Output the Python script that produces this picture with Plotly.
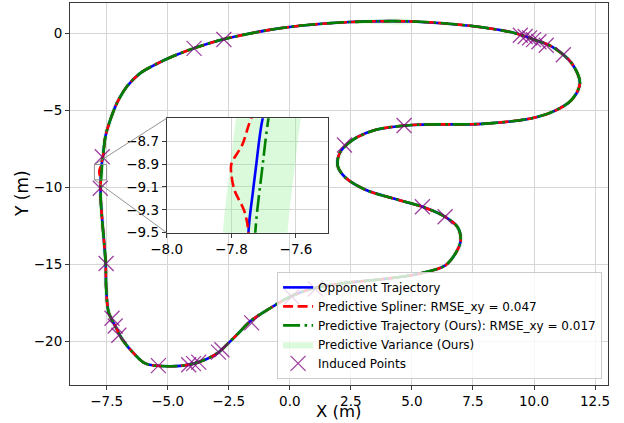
import numpy as np
import plotly.graph_objects as go

# ---------------- data ----------------
# Track waypoints, part A: from top straight, clockwise, down to the left side
track_a_x = [5.02, 7.47, 9.23, 10.0, 10.73, 11.54, 11.88, 11.54, 10.8, 9.91, 7.87, 5.02,
             3.53, 2.58, 2.04, 1.97, 2.31, 3.12, 4.21, 5.43, 6.24, 6.86, 7.0, 6.85, 6.38,
             5.3, 3.56, 2.19, 0.97, 0.01, -0.81, -1.62, -2.12, -2.44, -2.99, -3.94, -4.89, -5.9,
             -6.38, -6.85, -7.13, -7.42, -7.52, -7.54, -7.74]
track_a_y = [0.80, 0.50, 0.04, -0.38, -0.83, -1.91, -3.21, -4.3, -5.05, -5.49, -5.86, -5.93,
             -6.25, -6.9, -7.77, -8.64, -9.4, -10.16, -10.7, -11.25, -11.8, -12.55, -13.4, -14.1, -15.05,
             -15.6, -16.0, -16.22, -16.55, -17.1, -17.85, -18.7, -19.5, -20.0, -20.8, -21.45, -21.62, -21.45,
             -20.8, -19.9, -19.07, -18.1, -16.5, -14.94, -10.8]
# Track waypoints, part B: from the left side up and back to the top straight
track_b_x = [-7.65, -7.55, -7.35, -7.08, -6.67, -6.12, -5.44, -4.76, -3.94, -3.33, -2.72,
             -0.95, 0.41, 2.44, 5.02]
track_b_y = [-7.98, -6.68, -5.6, -4.51, -3.43, -2.56, -1.95, -1.45, -0.95, -0.64, -0.36,
             0.22, 0.52, 0.76, 0.80]

# Zoomed segment (inset window) for each series
opp_zoom_x = [-7.747, -7.734, -7.724, -7.703]
opp_zoom_y = [-9.5, -9.16, -8.93, -8.5]
spl_zoom_x = [-7.747, -7.76, -7.79, -7.80, -7.80, -7.766, -7.74]
spl_zoom_y = [-9.5, -9.31, -9.13, -8.99, -8.9, -8.73, -8.51]
pred_zoom_x = [-7.726, -7.704, -7.685]
pred_zoom_y = [-9.5, -8.93, -8.5]
pred_std = 0.1

# Induced points
ind_x = [-7.68, -7.76, -7.52, -7.28, -7.15, -7.0, -5.38, -4.14, -3.94, -3.73, -2.92, -2.78,
         -1.56, 0.08, 1.05, 5.43, 6.36, 4.68, 2.24, 9.44, 9.64, 9.82, 9.98, 10.2, 10.5, 11.2,
         -3.92, -2.7]
ind_y = [-8.0, -10.05, -14.94, -18.5, -19.0, -19.6, -21.58, -21.52, -21.45, -21.35, -20.7, -20.55,
         -18.8, -17.1, -16.6, -11.25, -11.9, -5.97, -7.23, -0.1, -0.18, -0.27, -0.38, -0.52, -0.75, -1.37,
         -0.95, -0.37]

main_xrange = [-9.0, 13.03]
main_yrange = [-22.84, 2.0]
inset_xrange = [-8.0, -7.5]
inset_yrange = [-9.5, -8.5]
inset_xticks = [-8.0, -7.8, -7.6]
inset_yticks = [-9.5, -9.3, -9.1, -8.9, -8.7]

x_title = "X (m)"
y_title = "Y (m)"
labels = ["Opponent Trajectory",
          "Predictive Spliner: RMSE_xy = 0.047",
          "Predictive Trajectory (Ours): RMSE_xy = 0.017",
          "Predictive Variance (Ours)",
          "Induced Points"]

# ---------------- build series ----------------
def series(zx, zy):
    return track_a_x + zx + track_b_x, track_a_y + zy + track_b_y

opp_x, opp_y = series(opp_zoom_x, opp_zoom_y)
spl_x, spl_y = series(spl_zoom_x, spl_zoom_y)
pred_x, pred_y = series(pred_zoom_x, pred_zoom_y)

px_ = np.array(pred_x); py_ = np.array(pred_y)
tx = np.gradient(px_); ty = np.gradient(py_)
nrm = np.hypot(tx, ty); nrm[nrm == 0] = 1
nx, ny = -ty / nrm, tx / nrm
band_x = list(px_ + pred_std * nx) + list((px_ - pred_std * nx)[::-1])
band_y = list(py_ + pred_std * ny) + list((py_ - pred_std * ny)[::-1])

SM = 0.9
fig = go.Figure()

for ax, ay, show in [("x", "y", True), ("x2", "y2", False)]:
    fig.add_trace(go.Scatter(x=band_x, y=band_y, mode="lines", fill="toself",
                             fillcolor="rgba(144,238,144,0.32)",
                             line=dict(width=0, shape="spline", smoothing=SM),
                             name=labels[3], showlegend=show, legendrank=4, xaxis=ax, yaxis=ay,
                             hoverinfo="skip"))
    fig.add_trace(go.Scatter(x=opp_x, y=opp_y, mode="lines",
                             line=dict(color="#0000ff", width=2.6, shape="spline", smoothing=SM),
                             name=labels[0], showlegend=show, legendrank=1, xaxis=ax, yaxis=ay))
    fig.add_trace(go.Scatter(x=spl_x, y=spl_y, mode="lines",
                             line=dict(color="#ff0000", width=2.6, shape="spline", smoothing=SM,
                                       dash="10px,4.5px"),
                             name=labels[1], showlegend=show, legendrank=2, xaxis=ax, yaxis=ay))
    fig.add_trace(go.Scatter(x=pred_x, y=pred_y, mode="lines",
                             line=dict(color="#008000", width=2.6, shape="spline", smoothing=SM,
                                       dash="17px,4.5px,2.5px,4.5px"),
                             name=labels[2], showlegend=show, legendrank=3, xaxis=ax, yaxis=ay))

fig.add_trace(go.Scatter(x=ind_x, y=ind_y, mode="markers",
                         marker=dict(symbol="x-thin", size=15, color="rgba(128,0,128,0.75)",
                                     line=dict(width=1.3, color="rgba(128,0,128,0.75)")),
                         name=labels[4], legendrank=5, xaxis="x", yaxis="y"))

# ---------------- layout ----------------
ml, mr, mt, mb = 70, 16, 3, 38
W, H = 624, 423
PW, PH = W - ml - mr, H - mt - mb
inset_dx = [(166.7 - ml) / PW, (328.3 - ml) / PW]
inset_dy = [(H - mb - 232.7) / PH, (H - mb - 118.3) / PH]

axis_common = dict(showgrid=True, gridcolor="#d6d6d6", gridwidth=1, zeroline=False,
                   showline=True, mirror=True, linecolor="#3a3a3a", linewidth=1,
                   ticks="outside", ticklen=4, tickcolor="#3a3a3a", automargin=False,
                   tickfont=dict(family="DejaVu Sans", size=13.5, color="black"))

fig.update_layout(
    width=W, height=H, margin=dict(l=ml, r=mr, t=mt, b=mb, autoexpand=False),
    paper_bgcolor="white", plot_bgcolor="white",
    font=dict(family="DejaVu Sans", color="black"),
    xaxis=dict(range=main_xrange, dtick=2.5, tick0=0, tickformat=".1f", **axis_common),
    yaxis=dict(range=main_yrange, dtick=5, tick0=0, tickformat="d", **axis_common),
    xaxis2=dict(domain=inset_dx, anchor="y2", range=inset_xrange, tickvals=inset_xticks,
                tickformat=".1f", **axis_common),
    yaxis2=dict(domain=inset_dy, anchor="x2", range=inset_yrange, tickvals=inset_yticks,
                tickformat=".1f", **axis_common),
    legend=dict(x=0.989, y=0.016, xanchor="right", yanchor="bottom",
                bgcolor="rgba(255,255,255,0.8)", bordercolor="#cccccc", borderwidth=1,
                font=dict(family="DejaVu Sans", size=12, color="black"),
                tracegroupgap=0, itemwidth=30),
    showlegend=True,
)

# axis titles
fig.add_annotation(text=x_title, xref="paper", yref="paper", x=0.5, y=-(411.5 - (H - mb)) / PH,
                   xanchor="center", yanchor="middle", showarrow=False, borderpad=0,
                   font=dict(family="DejaVu Sans", size=16.5, color="black"))
fig.add_annotation(text=y_title, xref="paper", yref="paper", x=(22 - ml) / PW, y=0.5,
                   xanchor="center", yanchor="middle", showarrow=False, textangle=-90,
                   font=dict(family="DejaVu Sans", size=17, color="black"))

# inset indicator rectangle and connectors
def to_paper_x(v):
    return (v - main_xrange[0]) / (main_xrange[1] - main_xrange[0])

def to_paper_y(v):
    return (v - main_yrange[0]) / (main_yrange[1] - main_yrange[0])

gray = "rgba(128,128,128,0.85)"
fig.add_shape(type="rect", xref="x", yref="y", x0=inset_xrange[0], x1=inset_xrange[1],
              y0=inset_yrange[0], y1=inset_yrange[1], line=dict(color=gray, width=1))
fig.add_shape(type="line", xref="paper", yref="paper",
              x0=to_paper_x(inset_xrange[0]), y0=to_paper_y(inset_yrange[1]),
              x1=inset_dx[0], y1=inset_dy[1], line=dict(color=gray, width=1))
fig.add_shape(type="line", xref="paper", yref="paper",
              x0=to_paper_x(inset_xrange[0]), y0=to_paper_y(inset_yrange[0]),
              x1=inset_dx[0], y1=inset_dy[0], line=dict(color=gray, width=1))

fig.write_html("out.html", config={"displayModeBar": False},
               post_script="document.body.style.margin='0';document.body.style.padding='0';"
                           "document.body.style.overflow='hidden';")
